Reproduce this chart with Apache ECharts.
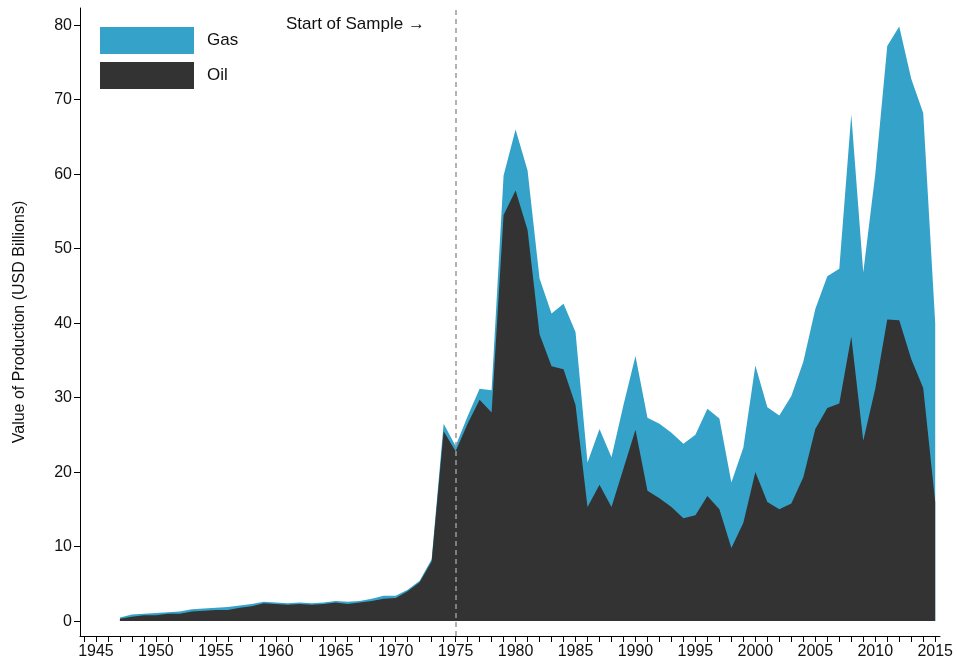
<!DOCTYPE html>
<html style="height: 100%">
  <head>
    <meta charset="UTF-8">
    <script src="https://fastly.jsdelivr.net/npm/echarts@6/dist/echarts.min.js"></script>
  </head>
  <body style="height: 100%; margin: 0; background: #fff">
    <div id="container" style="width: 958px; height: 671px"></div>
    <script>
    var years = [];
    for (var y = 1947; y <= 2015; y++) years.push(y);

    var oil = [0.3,0.6,0.8,0.8,1.0,1.0,1.3,1.4,1.5,1.5,1.8,2.0,2.4,2.3,2.2,2.3,2.2,2.3,2.5,2.3,2.5,2.7,3.0,3.1,4.0,5.2,8.0,25.5,22.8,26.5,29.7,28.0,54.5,57.8,52.5,38.5,34.2,33.8,29.0,15.3,18.3,15.3,20.5,25.7,17.5,16.5,15.3,13.8,14.2,16.8,15.0,9.8,13.2,20.0,16.0,15.0,15.8,19.3,25.8,28.6,29.2,38.2,24.2,31.2,40.5,40.4,35.2,31.3,16.0];
    var gas = [0.2,0.3,0.2,0.3,0.2,0.3,0.3,0.3,0.3,0.4,0.3,0.3,0.2,0.2,0.2,0.2,0.2,0.2,0.2,0.3,0.2,0.3,0.4,0.3,0.2,0.2,0.3,1.0,0.7,1.0,1.5,3.0,5.3,8.2,8.0,7.5,7.1,8.8,9.8,6.0,7.5,6.7,8.5,9.9,9.8,10.0,10.0,10.0,10.8,11.7,12.2,8.8,10.1,14.3,12.7,12.6,14.4,15.5,16.1,17.7,18.1,29.8,22.6,28.8,36.7,39.4,37.6,36.9,24.0];

    var xLabels = [1945,1950,1955,1960,1965,1970,1975,1980,1985,1990,1995,2000,2005,2010,2015];
    var yLabels = [0,10,20,30,40,50,60,70,80];

    var font = 'Liberation Sans, Arial, sans-serif';
    var chart = echarts.init(document.getElementById('container'));
    var option = {
      animation: false,
      grid: { left: 80, right: 18, top: 8, bottom: 35 },
      legend: {
        data: ['Gas', 'Oil'],
        orient: 'vertical',
        left: 95, top: 22,
        itemWidth: 94, itemHeight: 27, itemGap: 8,
        icon: 'rect',
        textStyle: { fontFamily: font, fontSize: 17, color: '#111', padding: [0, 0, 0, 8] }
      },
      xAxis: {
        type: 'value', min: 1943.67, max: 2015.4,
        axisLine: { onZero: false, lineStyle: { color: '#000' } },
        axisTick: { show: true, length: 6, customValues: [1944,1945,1946].concat(years), lineStyle: { color: '#000' } },
        axisLabel: { customValues: xLabels, formatter: function (v) { return String(v); }, fontFamily: font, fontSize: 16, color: '#111', margin: 8 },
        splitLine: { show: false }
      },
      yAxis: {
        type: 'value', min: -2, max: 82.3,
        name: 'Value of Production (USD Billions)', nameLocation: 'middle', nameGap: 52,
        nameTextStyle: { fontFamily: font, fontSize: 16, color: '#111' },
        axisLine: { show: true, lineStyle: { color: '#000' } },
        axisTick: { show: true, length: 6, customValues: yLabels, lineStyle: { color: '#000' } },
        axisLabel: { customValues: yLabels, fontFamily: font, fontSize: 16, color: '#111' },
        splitLine: { show: false }
      },
      series: [
        {
          name: 'Gas', type: 'line', symbol: 'none',
          lineStyle: { width: 0 }, itemStyle: { color: '#35a3c9' },
          areaStyle: { color: '#35a3c9', opacity: 1, origin: 0 },
          // gas stacked on oil
          data: years.map(function (yr, i) { return [yr, +(oil[i] + gas[i]).toFixed(2)]; })
        },
        {
          name: 'Oil', type: 'line', symbol: 'none',
          lineStyle: { width: 0 }, itemStyle: { color: '#333333' },
          areaStyle: { color: '#333333', opacity: 1, origin: 0 },
          data: years.map(function (yr, i) { return [yr, oil[i]]; }),
          markLine: {
            silent: true, symbol: 'none',
            lineStyle: { color: '#999', type: [5, 4], width: 1.5 },
            label: { show: false },
            data: [[{ coord: [1975, -2] }, { coord: [1975, 82.3] }]]
          }
        }
      ],
      graphic: [{
        type: 'text', left: 286, top: 16,
        style: { text: 'Start of Sample →', font: '17px ' + font, fill: '#111' }
      }]
    };
    chart.setOption(option);
    </script>
  </body>
</html>
